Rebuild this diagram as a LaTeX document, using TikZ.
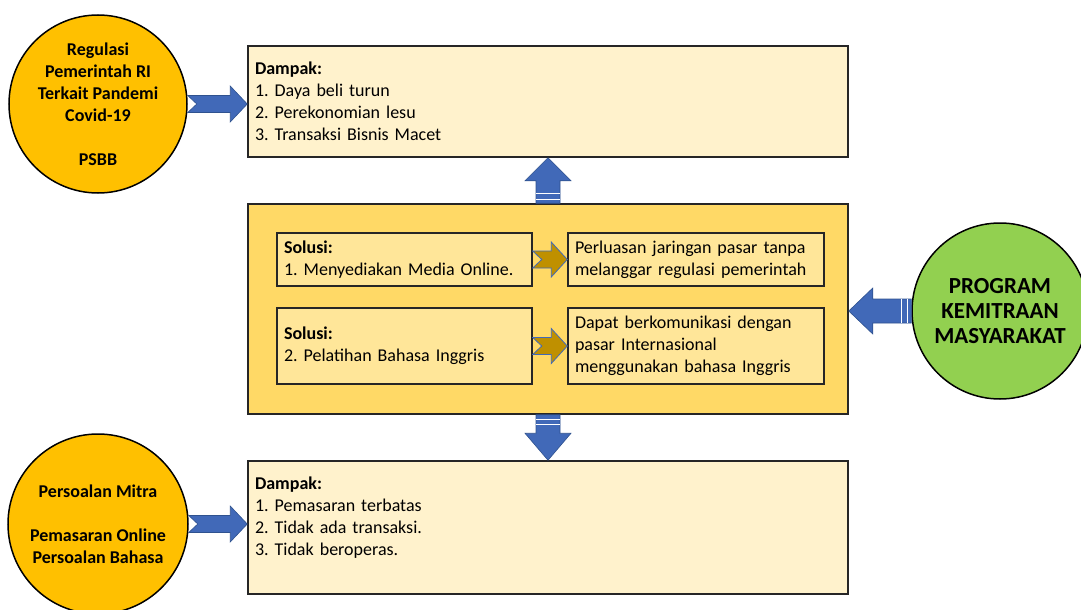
\documentclass[tikz,border=0pt]{standalone}
\usepackage{fontspec}
\setmainfont{Carlito}
\usepackage{xcolor}
\usetikzlibrary{calc}
\definecolor{oranye}{HTML}{FFC000}
\definecolor{hijau}{HTML}{92D050}
\definecolor{krem}{HTML}{FFF2CC}
\definecolor{kuning}{HTML}{FFD966}
\definecolor{kuningmuda}{HTML}{FFE699}
\definecolor{biru}{HTML}{4169B8}
\definecolor{birutua}{HTML}{2F528F}
\definecolor{emas}{HTML}{BF9000}
\definecolor{garis}{HTML}{262626}
\frenchspacing

\begin{document}
\begin{tikzpicture}[x=1pt,y=-1pt,
    bulat/.style={circle,draw=black,line width=1.5pt,align=center,inner sep=0pt,font=\bfseries\fontsize{18}{22}\selectfont},
    kotak/.style={rectangle,draw=garis,line width=1.5pt,align=left,inner xsep=7pt,inner ysep=0pt,font=\fontsize{18}{22}\selectfont},
    panahbiru/.style={fill=biru,draw=birutua,line width=0.6pt},
    panahemas/.style={fill=emas,draw=biru,line width=0.8pt},
    garisputih/.style={draw=white,line width=1.2pt}]
    \useasboundingbox (0,0) rectangle (1081,610);

    \node[kotak,fill=krem,text width=586pt,minimum height=111pt] (dampakA) at (548,101.5)
        {\textbf{Dampak:}\\1. Daya beli turun\\2. Perekonomian lesu\\3. Transaksi Bisnis Macet};
    \node[kotak,fill=kuning,minimum width=600pt,minimum height=210pt] (solusi) at (548,309) {};
    \node[kotak,fill=kuningmuda,text width=241pt,minimum height=53pt] (sol1) at (404.5,259.5)
        {\textbf{Solusi:}\\1. Menyediakan Media Online.};
    \node[kotak,fill=kuningmuda,text width=241pt,minimum height=76pt] (sol2) at (404.5,346)
        {\textbf{Solusi:}\\2. Pelatihan Bahasa Inggris};
    \node[kotak,fill=kuningmuda,text width=242pt,minimum height=53pt] (has1) at (696,259.5)
        {Perluasan jaringan pasar tanpa\\melanggar regulasi pemerintah};
    \node[kotak,fill=kuningmuda,text width=242pt,minimum height=76pt] (has2) at (696,346)
        {Dapat berkomunikasi dengan\\pasar Internasional\\menggunakan bahasa Inggris};
    \node[kotak,fill=krem,text width=586pt,minimum height=133pt] (dampakB) at (548,527.5)
        {\textbf{Dampak:}\\1. Pemasaran terbatas\\2. Tidak ada transaksi.\\3. Tidak beroperas.\\\mbox{}};

    \node[bulat,fill=oranye,minimum size=178pt] (reg) at (98,104)
        {Regulasi\\Pemerintah RI\\Terkait Pandemi\\Covid-19\\[22pt]PSBB};
    \node[bulat,fill=oranye,minimum size=180pt] (mitra) at (98,524)
        {Persoalan Mitra\\[22pt]Pemasaran Online\\Persoalan Bahasa};
    \node[bulat,fill=hijau,minimum size=176pt,font=\bfseries\fontsize{23}{25}\selectfont] (pkm) at (1000,311)
        {PROGRAM\\KEMITRAAN\\MASYARAKAT};

    \foreach \asal/\tujuan in {reg/dampakA,mitra/dampakB}{
        \coordinate (ujung) at (\tujuan.west |- \asal.east);
        \draw[panahbiru] ($(\asal.east)+(0,-8.5)$) -- ($(ujung)+(-17,-8.5)$) -- ($(ujung)+(-17,-18)$) -- (ujung)
            -- ($(ujung)+(-17,18)$) -- ($(ujung)+(-17,8.5)$) -- ($(\asal.east)+(0,8.5)$) -- ($(\asal.east)+(9,0)$) -- cycle;
    }
    \foreach \asal/\tujuan in {sol1/has1,sol2/has2}{
        \draw[panahemas] ($(\asal.east)+(0,-8.5)$) -- ($(\tujuan.west)+(-16,-8.5)$) -- ($(\tujuan.west)+(-16,-17.5)$) -- (\tujuan.west)
            -- ($(\tujuan.west)+(-16,17.5)$) -- ($(\tujuan.west)+(-16,8.5)$) -- ($(\asal.east)+(0,8.5)$) -- ($(\asal.east)+(9,0)$) -- cycle;
    }

    \coordinate (atas) at (dampakA.south);
    \draw[panahbiru] ($(solusi.north)+(-12,0)$) -- ($(atas)+(-12,23)$) -- ($(atas)+(-23,23)$) -- (atas)
        -- ($(atas)+(23,23)$) -- ($(atas)+(12,23)$) -- ($(solusi.north)+(12,0)$) -- cycle;
    \draw[garisputih] ($(solusi.north)+(-12,-4)$) -- ($(solusi.north)+(12,-4)$)
        ($(solusi.north)+(-12,-9.5)$) -- ($(solusi.north)+(12,-9.5)$);

    \coordinate (bawah) at (dampakB.north);
    \draw[panahbiru] ($(solusi.south)+(-12,0)$) -- ($(bawah)+(-12,-27)$) -- ($(bawah)+(-23,-27)$) -- (bawah)
        -- ($(bawah)+(23,-27)$) -- ($(bawah)+(12,-27)$) -- ($(solusi.south)+(12,0)$) -- cycle;
    \draw[garisputih] ($(solusi.south)+(-12,5)$) -- ($(solusi.south)+(12,5)$)
        ($(solusi.south)+(-12,10)$) -- ($(solusi.south)+(12,10)$);

    \coordinate (kiri) at (solusi.east |- pkm.west);
    \draw[panahbiru] ($(pkm.west)+(0,-12)$) -- ($(kiri)+(24,-12)$) -- ($(kiri)+(24,-23)$) -- (kiri)
        -- ($(kiri)+(24,23)$) -- ($(kiri)+(24,12)$) -- ($(pkm.west)+(0,12)$) -- cycle;
    \draw[garisputih] ($(pkm.west)+(-4,-12)$) -- ($(pkm.west)+(-4,12)$)
        ($(pkm.west)+(-10,-12)$) -- ($(pkm.west)+(-10,12)$);
\end{tikzpicture}
\end{document}
